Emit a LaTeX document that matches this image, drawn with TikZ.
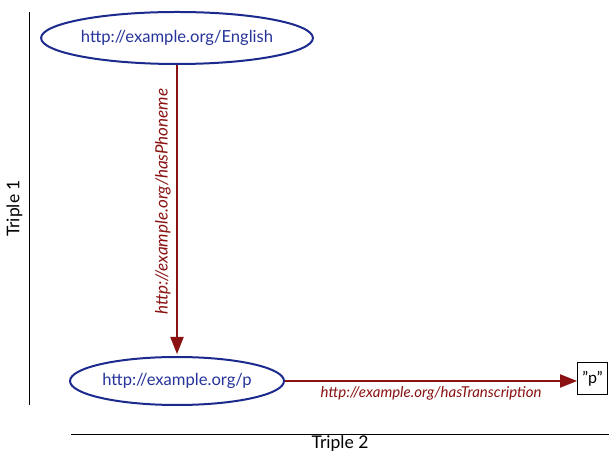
\documentclass[tikz,border=0pt]{standalone}
\usepackage{fontspec}
\setmainfont{Lato}
\usetikzlibrary{shapes.geometric,arrows.meta}
\definecolor{resblue}{HTML}{1C2A8E}
\definecolor{restext}{HTML}{25339A}
\definecolor{propred}{HTML}{8A1212}
\tikzset{
  resource/.style={ellipse, draw=resblue, line width=2pt, inner sep=0pt, text=restext, font=\fontsize{16.6}{18}\selectfont},
  literal/.style={rectangle, draw=black, line width=0.8pt, inner sep=0pt, font=\fontsize{16}{18}\selectfont},
  prop/.style={draw=propred, line width=2pt, -{Triangle[length=17pt,width=13pt]}},
  proplabel/.style={text=propred, font=\fontsize{15}{17}\selectfont\itshape},
  triple/.style={draw=black, line width=0.6pt},
  triplelabel/.style={font=\fontsize{17.5}{19}\selectfont}
}
\begin{document}
\begin{tikzpicture}[x=1pt,y=1pt]
\useasboundingbox (0,0) rectangle (610,452);
\node[resource, minimum width=264pt, minimum height=52pt] (eng) at (177,414) {http://example.org/English};
\node[resource, minimum width=214pt, minimum height=48pt] (p) at (177,71) {http://example.org/p};
\node[literal, minimum width=30pt, minimum height=32pt] (lit) at (592.5,73.5) {\symbol{34}p\symbol{34}};
\draw[prop, shorten >=2pt] (eng.south) -- node[proplabel, rotate=90, anchor=south, pos=0.47, yshift=2pt, font=\fontsize{17}{19}\selectfont\itshape] (l1) {http://example.org/hasPhoneme} (p.north);
\draw[prop] (p.east) -- node[proplabel, below, yshift=-1pt] (l2) {http://example.org/hasTranscription} (p.east -| lit.west);
\coordinate (t1a) at (29,440);
\coordinate (t1b) at (29,47);
\draw[triple] (t1a) -- node[triplelabel, rotate=90, anchor=south, yshift=3pt] (t1) {Triple 1} (t1b);
\coordinate (t2a) at (71,18);
\coordinate (t2b) at (609,18);
\draw[triple] (t2a) -- node[triplelabel, below, inner sep=1pt] (t2) {Triple 2} (t2b);
\end{tikzpicture}
\end{document}
